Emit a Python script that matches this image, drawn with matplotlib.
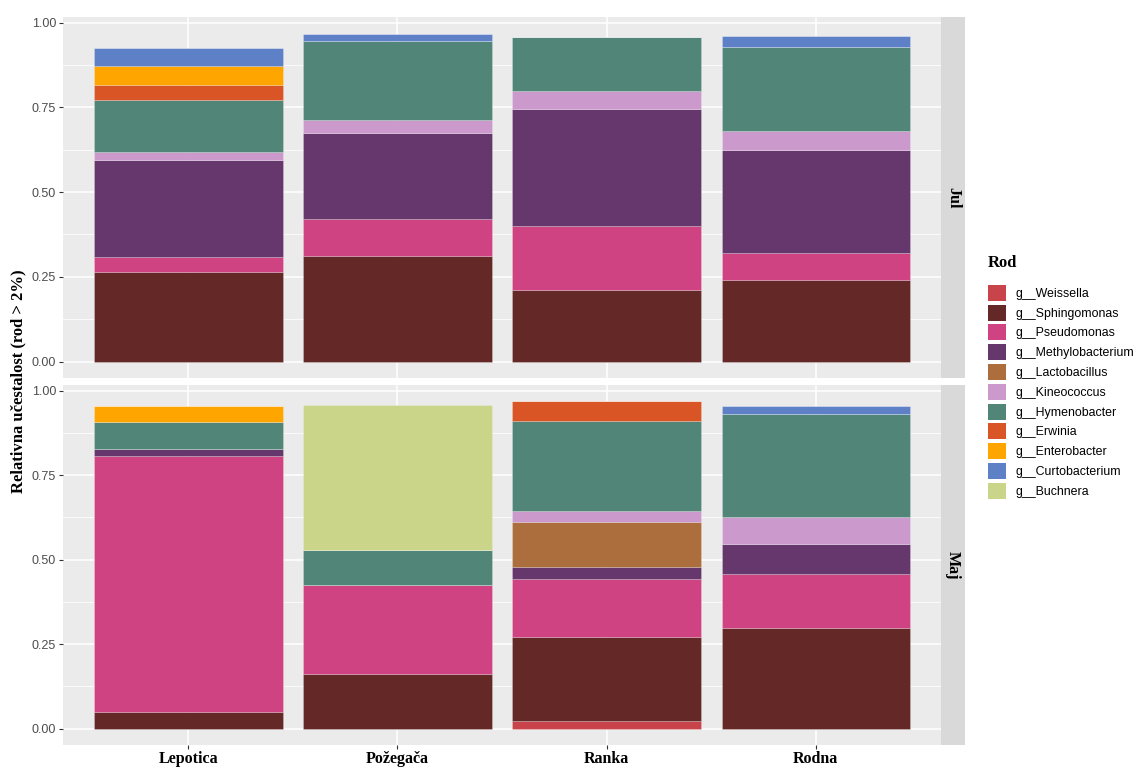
import numpy as np
import matplotlib
matplotlib.use("Agg")
import matplotlib.pyplot as plt
from matplotlib.patches import Patch

# sorte (x osa) i meseci (paneli)
sorte = ["Lepotica", "Požegača", "Ranka", "Rodna"]
meseci = ["Jul", "Maj"]

# rodovi, redosled odozdo nagore u stubu
rodovi = ["g__Weissella", "g__Sphingomonas", "g__Pseudomonas", "g__Methylobacterium",
          "g__Lactobacillus", "g__Kineococcus", "g__Hymenobacter", "g__Erwinia",
          "g__Enterobacter", "g__Curtobacterium", "g__Buchnera"]
boje = ["#C8434A", "#642926", "#D04383", "#65376D", "#AB6E3C", "#CC99CC",
        "#508577", "#D95526", "#FFA500", "#5E80C6", "#CAD58A"]

# relativne ucestalosti, Jul (kolone: Lepotica, Pozegaca, Ranka, Rodna)
jul_weissella = [0, 0, 0, 0]
jul_sphingomonas = [0.265, 0.312, 0.212, 0.241]
jul_pseudomonas = [0.043, 0.110, 0.189, 0.079]
jul_methylobacterium = [0.286, 0.253, 0.343, 0.305]
jul_lactobacillus = [0, 0, 0, 0]
jul_kineococcus = [0.025, 0.039, 0.055, 0.056]
jul_hymenobacter = [0.154, 0.231, 0.158, 0.248]
jul_erwinia = [0.044, 0, 0, 0]
jul_enterobacter = [0.056, 0, 0, 0]
jul_curtobacterium = [0.051, 0.022, 0, 0.032]
jul_buchnera = [0, 0, 0, 0]

# Maj
maj_weissella = [0, 0, 0.024, 0]
maj_sphingomonas = [0.048, 0.162, 0.247, 0.299]
maj_pseudomonas = [0.758, 0.263, 0.171, 0.159]
maj_methylobacterium = [0.021, 0, 0.037, 0.088]
maj_lactobacillus = [0, 0, 0.131, 0]
maj_kineococcus = [0, 0, 0.033, 0.080]
maj_hymenobacter = [0.081, 0.102, 0.266, 0.304]
maj_erwinia = [0, 0, 0.059, 0]
maj_enterobacter = [0.045, 0, 0, 0]
maj_curtobacterium = [0, 0, 0, 0.024]
maj_buchnera = [0, 0.430, 0, 0]

podaci = {
    "Jul": [jul_weissella, jul_sphingomonas, jul_pseudomonas, jul_methylobacterium,
            jul_lactobacillus, jul_kineococcus, jul_hymenobacter, jul_erwinia,
            jul_enterobacter, jul_curtobacterium, jul_buchnera],
    "Maj": [maj_weissella, maj_sphingomonas, maj_pseudomonas, maj_methylobacterium,
            maj_lactobacillus, maj_kineococcus, maj_hymenobacter, maj_erwinia,
            maj_enterobacter, maj_curtobacterium, maj_buchnera],
}

serif = "Liberation Serif"
sans = "Liberation Sans"

fig = plt.figure(figsize=(11.35, 7.68), dpi=100)
W, H = 1135, 768
left, right = 63 / W, 941 / W
panel_box = {"Jul": (17, 378), "Maj": (385, 745)}

x = np.arange(len(sorte))
ymax = 0.968
ylim = (-0.05 * ymax, ymax * 1.05)

for mesec in meseci:
    top, bot = panel_box[mesec]
    ax = fig.add_axes([left, 1 - bot / H, right - left, (bot - top) / H])
    ax.set_facecolor("#EBEBEB")
    for s in ax.spines.values():
        s.set_visible(False)
    ax.set_axisbelow(True)
    ax.set_yticks([0, 0.25, 0.5, 0.75, 1.0])
    ax.set_yticks([0.125, 0.375, 0.625, 0.875], minor=True)
    ax.grid(which="major", color="white", lw=1.1)
    ax.grid(which="minor", axis="y", color="white", lw=0.55)
    ax.tick_params(which="minor", length=0)
    ax.tick_params(which="major", length=3, color="#333333", width=0.8, pad=2)

    dno = np.zeros(len(sorte))
    for vrednosti, boja in zip(podaci[mesec], boje):
        v = np.array(vrednosti)
        ax.bar(x, v, width=0.9, bottom=dno, color=boja, edgecolor=(1, 1, 1, 0.25), lw=0.6)
        dno += v

    ax.set_xlim(-0.6, len(sorte) - 0.4)
    ax.set_ylim(*ylim)
    ax.set_yticklabels(["0.00", "0.25", "0.50", "0.75", "1.00"], fontfamily=sans,
                       fontsize=9, color="#4D4D4D")
    ax.set_xticks(x)
    if mesec == "Maj":
        ax.set_xticklabels(sorte, fontfamily=serif, fontweight="bold", fontsize=11.5, color="black")
        ax.tick_params(axis="x", pad=1)
    else:
        ax.set_xticklabels([])
        ax.tick_params(axis="x", length=0)

    # traka sa nazivom meseca
    strip = fig.add_axes([right, 1 - bot / H, 24 / W, (bot - top) / H])
    strip.set_facecolor("#D9D9D9")
    strip.set_xticks([])
    strip.set_yticks([])
    for s in strip.spines.values():
        s.set_visible(False)
    strip.text(0.5, 0.5, mesec, rotation=-90, ha="center", va="center",
               fontfamily=serif, fontweight="bold", fontsize=11.5)

fig.text(18 / W, 1 - 381 / H, "Relativna učestalost (rod > 2%)", rotation=90,
         ha="center", va="center", fontfamily=serif, fontweight="bold", fontsize=12)

handles = [Patch(facecolor=b, edgecolor="none") for b in boje]
leg = fig.legend(handles, rodovi, loc="upper left", bbox_to_anchor=(983 / W, 1 - 250 / H),
                 frameon=False, title="Rod", prop={"family": sans, "size": 8.9},
                 handlelength=1.46, handleheight=1.61, labelspacing=0.31,
                 handletextpad=0.73, alignment="left", borderaxespad=0)
leg.get_title().set_fontfamily(serif)
leg.get_title().set_fontweight("bold")
leg.get_title().set_fontsize(12)
leg._legend_box.sep = 10

fig.savefig("out.png", dpi=100)
